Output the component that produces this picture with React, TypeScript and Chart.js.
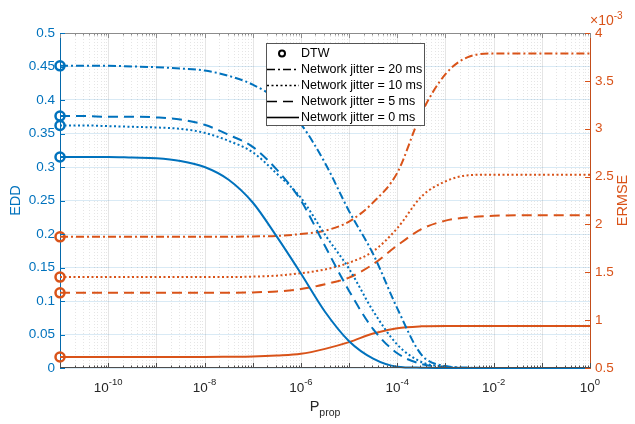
import React, { useEffect, useRef } from 'react';
import { Chart, registerables } from 'chart.js';

Chart.register(...registerables);

// P_prop sample points (half-decade steps from 1e-11 to 1)
const P_PROP = [
  1e-11, 3.162e-11, 1e-10, 3.162e-10, 1e-9, 3.162e-9, 1e-8, 3.162e-8, 1e-7, 3.162e-7,
  1e-6, 3.162e-6, 1e-5, 3.162e-5, 1e-4, 3.162e-4, 1e-3, 3.162e-3, 1e-2, 3.162e-2,
  1e-1, 3.162e-1, 1,
];

// EDD (left axis)
const EDD_20MS = [0.451, 0.451, 0.451, 0.45, 0.449, 0.447, 0.444, 0.436, 0.423, 0.401, 0.364, 0.306, 0.234, 0.17, 0.089, 0.02, 0.003, 0.0005, 0, 0, 0, 0, 0];
const EDD_10MS = [0.362, 0.362, 0.361, 0.36, 0.359, 0.357, 0.351, 0.339, 0.322, 0.29, 0.254, 0.199, 0.148, 0.085, 0.035, 0.009, 0.002, 0, 0, 0, 0, 0, 0];
const EDD_5MS = [0.376, 0.376, 0.375, 0.375, 0.374, 0.371, 0.363, 0.348, 0.33, 0.296, 0.25, 0.182, 0.115, 0.058, 0.022, 0.006, 0.001, 0, 0, 0, 0, 0, 0];
const EDD_0MS = [0.315, 0.315, 0.315, 0.314, 0.313, 0.309, 0.3, 0.281, 0.247, 0.196, 0.141, 0.084, 0.04, 0.014, 0.002, 0.0005, 0, 0, 0, 0, 0, 0, 0];

// ERMSE (right axis, in units of 1e-3)
const ERMSE_20MS = [1.87, 1.87, 1.87, 1.87, 1.87, 1.87, 1.87, 1.87, 1.875, 1.88, 1.9, 1.935, 2.03, 2.23, 2.54, 3.16, 3.57, 3.755, 3.785, 3.785, 3.785, 3.785, 3.785];
const ERMSE_10MS = [1.45, 1.45, 1.45, 1.45, 1.45, 1.45, 1.45, 1.45, 1.455, 1.465, 1.49, 1.53, 1.6, 1.72, 1.96, 2.29, 2.45, 2.515, 2.52, 2.52, 2.52, 2.52, 2.52];
const ERMSE_5MS = [1.285, 1.285, 1.285, 1.285, 1.285, 1.285, 1.285, 1.285, 1.29, 1.3, 1.325, 1.375, 1.445, 1.585, 1.78, 1.95, 2.04, 2.075, 2.09, 2.095, 2.095, 2.095, 2.095];
const ERMSE_0MS = [0.615, 0.615, 0.615, 0.615, 0.615, 0.615, 0.615, 0.617, 0.62, 0.63, 0.648, 0.7, 0.77, 0.86, 0.915, 0.935, 0.94, 0.94, 0.94, 0.94, 0.94, 0.94, 0.94];

const X_LABEL_EXPONENTS = [-10, -8, -6, -4, -2, 0];
const LEGEND_LABELS = ['DTW', 'Network jitter = 20 ms', 'Network jitter = 10 ms', 'Network jitter = 5 ms', 'Network jitter = 0 ms'];

const BLUE = '#0072BD';
const ORANGE = '#D95319';
const AXIS = '#262626';
const FONT = '"Liberation Sans", Arial, Helvetica, sans-serif';

const DASH_DOT = [8, 3, 2, 3];
const DOTTED = [2, 2.5];
const DASHED = [10, 6];
const SOLID: number[] = [];

function ds(label: string, data: number[], color: string, dash: number[], axis: string) {
  return {
    label,
    data: P_PROP.map((x, i) => ({ x, y: data[i] })),
    borderColor: color,
    borderWidth: 2,
    borderDash: dash,
    yAxisID: axis,
    cubicInterpolationMode: 'monotone' as const,
    pointRadius: (c: any) => (c.dataIndex === 0 ? 4.5 : 0),
    pointHoverRadius: 0,
    pointBorderWidth: 2.5,
    pointBorderColor: color,
    pointBackgroundColor: 'rgba(0,0,0,0)',
    clip: false as const,
  };
}

const fmt = (v: any) => String(Math.round(Number(v) * 100) / 100);

const decor = {
  id: 'decor',
  beforeDatasetsDraw(chart: any) {
    const { ctx, chartArea: a, scales } = chart;
    const xs = scales.x;
    ctx.save();
    ctx.lineWidth = 1;
    for (let k = -11; k <= 0; k++) {
      for (let m = 1; m <= 9; m++) {
        if (k === 0 && m > 1) break;
        const px = Math.round(xs.getPixelForValue(m * Math.pow(10, k))) + 0.5;
        ctx.beginPath();
        if (m === 1) {
          ctx.setLineDash([]);
          ctx.strokeStyle = 'rgba(38,38,38,0.12)';
        } else {
          ctx.setLineDash([1, 2]);
          ctx.strokeStyle = 'rgba(38,38,38,0.12)';
        }
        ctx.moveTo(px, a.top);
        ctx.lineTo(px, a.bottom);
        ctx.stroke();
      }
    }
    ctx.restore();
  },
  afterDraw(chart: any) {
    const { ctx, chartArea: a, scales } = chart;
    const xs = scales.x;
    const yl = scales.y;
    const yr = scales.y1;
    ctx.save();
    ctx.setLineDash([]);
    ctx.lineWidth = 1;

    // top and bottom box lines
    ctx.strokeStyle = '#8c8c8c';
    ctx.beginPath();
    ctx.moveTo(a.left, Math.round(a.top) + 0.5);
    ctx.lineTo(a.right, Math.round(a.top) + 0.5);
    ctx.stroke();
    ctx.strokeStyle = '#4d4d4d';
    ctx.beginPath();
    ctx.moveTo(a.left, Math.round(a.bottom) - 0.5);
    ctx.lineTo(a.right, Math.round(a.bottom) - 0.5);
    ctx.stroke();

    // x ticks (inward, top and bottom)
    for (let k = -11; k <= 0; k++) {
      for (let m = 1; m <= 9; m++) {
        if (k === 0 && m > 1) break;
        const px = Math.round(xs.getPixelForValue(m * Math.pow(10, k))) + 0.5;
        const len = m === 1 ? 5 : 2.5;
        ctx.beginPath();
        ctx.strokeStyle = '#4d4d4d';
        ctx.moveTo(px, a.bottom);
        ctx.lineTo(px, a.bottom - len);
        ctx.stroke();
        ctx.beginPath();
        ctx.strokeStyle = '#8c8c8c';
        ctx.moveTo(px, a.top);
        ctx.lineTo(px, a.top + len);
        ctx.stroke();
      }
    }

    // y ticks (inward)
    ctx.strokeStyle = BLUE;
    for (const t of yl.ticks) {
      const py = Math.round(yl.getPixelForValue(t.value)) + 0.5;
      ctx.beginPath();
      ctx.moveTo(a.left, py);
      ctx.lineTo(a.left + 5, py);
      ctx.stroke();
    }
    ctx.strokeStyle = ORANGE;
    for (const t of yr.ticks) {
      const py = Math.round(yr.getPixelForValue(t.value)) + 0.5;
      ctx.beginPath();
      ctx.moveTo(a.right, py);
      ctx.lineTo(a.right - 5, py);
      ctx.stroke();
    }

    // x tick labels with superscripts
    ctx.fillStyle = AXIS;
    ctx.textBaseline = 'alphabetic';
    ctx.textAlign = 'left';
    for (const e of X_LABEL_EXPONENTS) {
      const px = xs.getPixelForValue(Math.pow(10, e));
      ctx.font = `13.5px ${FONT}`;
      const wb = ctx.measureText('10').width;
      ctx.font = `9.5px ${FONT}`;
      const es = String(e);
      const we = ctx.measureText(es).width;
      const x0 = px - (wb + we) / 2;
      ctx.font = `13.5px ${FONT}`;
      ctx.fillText('10', x0, 392);
      ctx.font = `9.5px ${FONT}`;
      ctx.fillText(es, x0 + wb, 385);
    }

    // x axis title P_prop
    ctx.font = `14.5px ${FONT}`;
    const wP = ctx.measureText('P').width;
    ctx.font = `10.5px ${FONT}`;
    const wS = ctx.measureText('prop').width;
    const xp = (a.left + a.right) / 2 - (wP + wS) / 2;
    ctx.font = `14.5px ${FONT}`;
    ctx.fillText('P', xp, 411);
    ctx.font = `10.5px ${FONT}`;
    ctx.fillText('prop', xp + wP, 416);

    // y axis titles
    const cy = (a.top + a.bottom) / 2;
    ctx.font = `14.5px ${FONT}`;
    ctx.textAlign = 'center';
    ctx.textBaseline = 'middle';
    ctx.save();
    ctx.translate(16, cy);
    ctx.rotate(-Math.PI / 2);
    ctx.fillStyle = BLUE;
    ctx.fillText('EDD', 0, 0);
    ctx.restore();
    ctx.save();
    ctx.translate(623, cy);
    ctx.rotate(-Math.PI / 2);
    ctx.fillStyle = ORANGE;
    ctx.fillText('ERMSE', 0, 0);
    ctx.restore();

    // exponent for right axis
    ctx.textAlign = 'left';
    ctx.textBaseline = 'alphabetic';
    ctx.fillStyle = ORANGE;
    ctx.font = `14px ${FONT}`;
    ctx.fillText('\u00d710', 590, 25);
    const wx = ctx.measureText('\u00d710').width;
    ctx.font = `10px ${FONT}`;
    ctx.fillText('-3', 590 + wx, 19);

    // legend
    const lx = 266.5, ly = 43.5, lw = 158, lh = 82;
    ctx.fillStyle = '#ffffff';
    ctx.fillRect(lx, ly, lw, lh);
    ctx.strokeStyle = '#555555';
    ctx.lineWidth = 1;
    ctx.strokeRect(lx, ly, lw, lh);
    const dashes = [null, DASH_DOT, DOTTED, DASHED, SOLID];
    ctx.font = `12.5px ${FONT}`;
    ctx.textBaseline = 'middle';
    for (let i = 0; i < LEGEND_LABELS.length; i++) {
      const yy = 53.5 + i * 16;
      ctx.strokeStyle = '#000';
      if (i === 0) {
        ctx.setLineDash([]);
        ctx.lineWidth = 2;
        ctx.beginPath();
        ctx.arc(282, yy, 3, 0, Math.PI * 2);
        ctx.stroke();
      } else {
        ctx.setLineDash(dashes[i] as number[]);
        ctx.lineWidth = 1.6;
        ctx.beginPath();
        ctx.moveTo(267, yy);
        ctx.lineTo(299, yy);
        ctx.stroke();
      }
      ctx.setLineDash([]);
      ctx.fillStyle = '#000';
      ctx.fillText(LEGEND_LABELS[i], 301, yy + 0.5);
    }
    ctx.restore();
  },
};

export default function App() {
  const ref = useRef<HTMLCanvasElement | null>(null);
  useEffect(() => {
    if (!ref.current) return;
    const chart = new Chart(ref.current, {
      type: 'line',
      data: {
        datasets: [
          ds('EDD 20 ms', EDD_20MS, BLUE, DASH_DOT, 'y'),
          ds('EDD 10 ms', EDD_10MS, BLUE, DOTTED, 'y'),
          ds('EDD 5 ms', EDD_5MS, BLUE, DASHED, 'y'),
          ds('EDD 0 ms', EDD_0MS, BLUE, SOLID, 'y'),
          ds('ERMSE 20 ms', ERMSE_20MS, ORANGE, DASH_DOT, 'y1'),
          ds('ERMSE 10 ms', ERMSE_10MS, ORANGE, DOTTED, 'y1'),
          ds('ERMSE 5 ms', ERMSE_5MS, ORANGE, DASHED, 'y1'),
          ds('ERMSE 0 ms', ERMSE_0MS, ORANGE, SOLID, 'y1'),
        ] as any,
      },
      options: {
        responsive: false,
        animation: false,
        devicePixelRatio: 1,
        layout: { padding: { top: 33, bottom: 56, left: 0, right: 0 } },
        plugins: { legend: { display: false }, tooltip: { enabled: false } },
        scales: {
          x: { type: 'logarithmic', min: 1e-11, max: 1, display: false },
          y: {
            type: 'linear',
            position: 'left',
            min: 0,
            max: 0.5,
            ticks: { stepSize: 0.05, color: BLUE, font: { family: FONT, size: 13.5 }, padding: 5, callback: fmt },
            grid: { color: 'rgba(0,114,189,0.15)', drawTicks: false },
            border: { color: BLUE },
            afterFit: (s: any) => { s.width = 60; },
          },
          y1: {
            type: 'linear',
            position: 'right',
            min: 0.5,
            max: 4,
            ticks: { stepSize: 0.5, color: ORANGE, font: { family: FONT, size: 13.5 }, padding: 5, callback: fmt },
            grid: { display: false, drawTicks: false },
            border: { color: ORANGE },
            afterFit: (s: any) => { s.width = 45; },
          },
        },
      } as any,
      plugins: [decor],
    });
    return () => chart.destroy();
  }, []);
  return (
    <div style={{ position: 'absolute', left: 0, top: 0, width: 635, height: 424, background: '#fff' }}>
      <canvas ref={ref} width={635} height={424} />
    </div>
  );
}
